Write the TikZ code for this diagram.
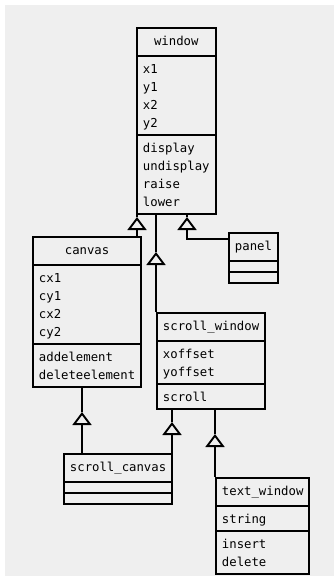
\documentclass[tikz,border=0pt]{standalone}
\usepackage{fontspec}
\setmonofont{DejaVu Sans Mono}
\usetikzlibrary{arrows.meta,shapes.multipart,calc}
\definecolor{Paper}{HTML}{EFEFEF}
\definecolor{Ink}{HTML}{000000}
\newcommand\rw{\rule[-4pt]{0pt}{18pt}}
\newcommand\ttl[1]{\rule[-6.5pt]{0pt}{21pt}#1}

\begin{document}
\begin{tikzpicture}[x=1pt,y=-1pt,line width=1.9pt,
  umlclass/.style={draw=Ink,fill=Paper,rectangle split,rectangle split parts=3,
    rectangle split part align={center,left,left},align=left,anchor=north west,
    inner xsep=6pt,inner ysep=2.5pt,
    font=\fontsize{12.3}{18}\selectfont\ttfamily},
  gen/.style={-{Triangle[open,length=13pt,width=19pt]},draw=Ink},
  link/.style={draw=Ink}]
  \useasboundingbox (0,0) rectangle (334,577);
  \fill[white] (0,0) rectangle (334,577);
  \fill[Paper] (5,5) rectangle (334,576);

  \node[umlclass] (window) at (136,27)
    {\ttl{window}\nodepart{second}\rw x1\\\rw y1\\\rw x2\\\rw y2
     \nodepart{third}\rw display\\\rw undisplay\\\rw raise\\\rw lower};
  \node[umlclass] (canvas) at (32,236)
    {\ttl{canvas}\nodepart{second}\rw cx1\\\rw cy1\\\rw cx2\\\rw cy2
     \nodepart{third}\rw addelement\\\rw deleteelement};
  \node[umlclass] (panel) at (228,232)
    {\ttl{panel}\nodepart{second}\nodepart{third}};
  \node[umlclass] (scrollwin) at (156,312)
    {\ttl{scroll\_window}\nodepart{second}\rw xoffset\\\rw yoffset
     \nodepart{third}\rw scroll};
  \node[umlclass] (scrollcan) at (63,453)
    {\ttl{scroll\_canvas}\nodepart{second}\nodepart{third}};
  \node[umlclass] (textwin) at (215,477)
    {\ttl{text\_window}\nodepart{second}\rw string
     \nodepart{third}\rw insert\\\rw delete};

  % triangle tips of the generalisations
  \coordinate (i1) at (137,217);
  \coordinate (i2) at (156,252);
  \coordinate (i3) at (187,217);
  \coordinate (i4) at (82,412);
  \coordinate (i5) at (172,422);
  \coordinate (i6) at (215,434);

  \draw[gen] (i1 |- canvas.north) -- (i1);
  \draw[link] (i1) -- (i1 |- window.south);
  \draw[gen] (i2 |- scrollwin.north) -- (i2);
  \draw[link] (i2) -- (i2 |- window.south);
  \draw[gen] ($(panel.north west)+(0,7)$) -| (i3);
  \draw[link] (i3) -- (i3 |- window.south);
  \draw[gen] (i4 |- scrollcan.north) -- (i4);
  \draw[link] (i4) -- (i4 |- canvas.south);
  \draw[gen] (i5 |- scrollcan.north) -- (i5);
  \draw[link] (i5) -- (i5 |- scrollwin.south);
  \draw[gen] (i6 |- textwin.north) -- (i6);
  \draw[link] (i6) -- (i6 |- scrollwin.south);
\end{tikzpicture}
\end{document}
